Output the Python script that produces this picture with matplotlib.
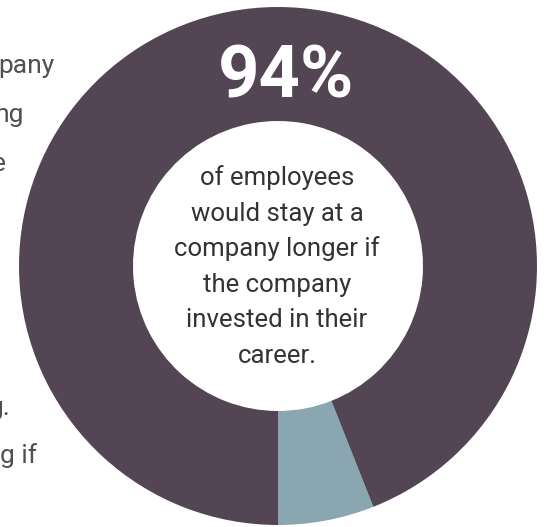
import matplotlib.pyplot as plt

# share of employees who would stay longer vs. the rest
labels = ["other", "would stay"]
shares = [6, 94]
colors = ["#8aa6b1", "#534553"]

headline = "94%"
caption = ["of employees", "would stay at a", "company longer if",
           "the company", "invested in their", "career."]

# paragraph running off the left edge, partly hidden behind the ring
side_lines = ["pany", "ng", "e", "g.", "g if"]
side_rows = [0, 1, 2, 7, 8]
side_right = [55, 24, 6, 10, 37]

plt.rcParams["font.family"] = ["Roboto", "DejaVu Sans"]

W, H = 545, 527
fig = plt.figure(figsize=(W / 100, H / 100), dpi=100)
ax = fig.add_axes([0, 0, 1, 1])

cx, cy = 278, H - 266
r_out, r_in = 259, 145

for txt, row, xr in zip(side_lines, side_rows, side_right):
    ax.text(xr, H - (73 + 48.8 * row), txt, ha="right", va="baseline",
            fontsize=19, color="#505050", zorder=0)

ax.pie(shares, colors=colors, startangle=-90, counterclock=True,
       radius=r_out, center=(cx, cy),
       wedgeprops=dict(width=r_out - r_in, linewidth=0))

ax.text(286, H - 98, headline, ha="center", va="baseline",
        fontsize=52, fontweight="bold", color="white", zorder=5)

for i, line in enumerate(caption):
    ax.text(277, H - (185 + 35.6 * i), line, ha="center", va="baseline",
            fontsize=18.5, color="#333333", zorder=5)

ax.set_xlim(0, W)
ax.set_ylim(0, H)
ax.set_aspect("auto")
ax.axis("off")

fig.savefig("out.png", dpi=100)
